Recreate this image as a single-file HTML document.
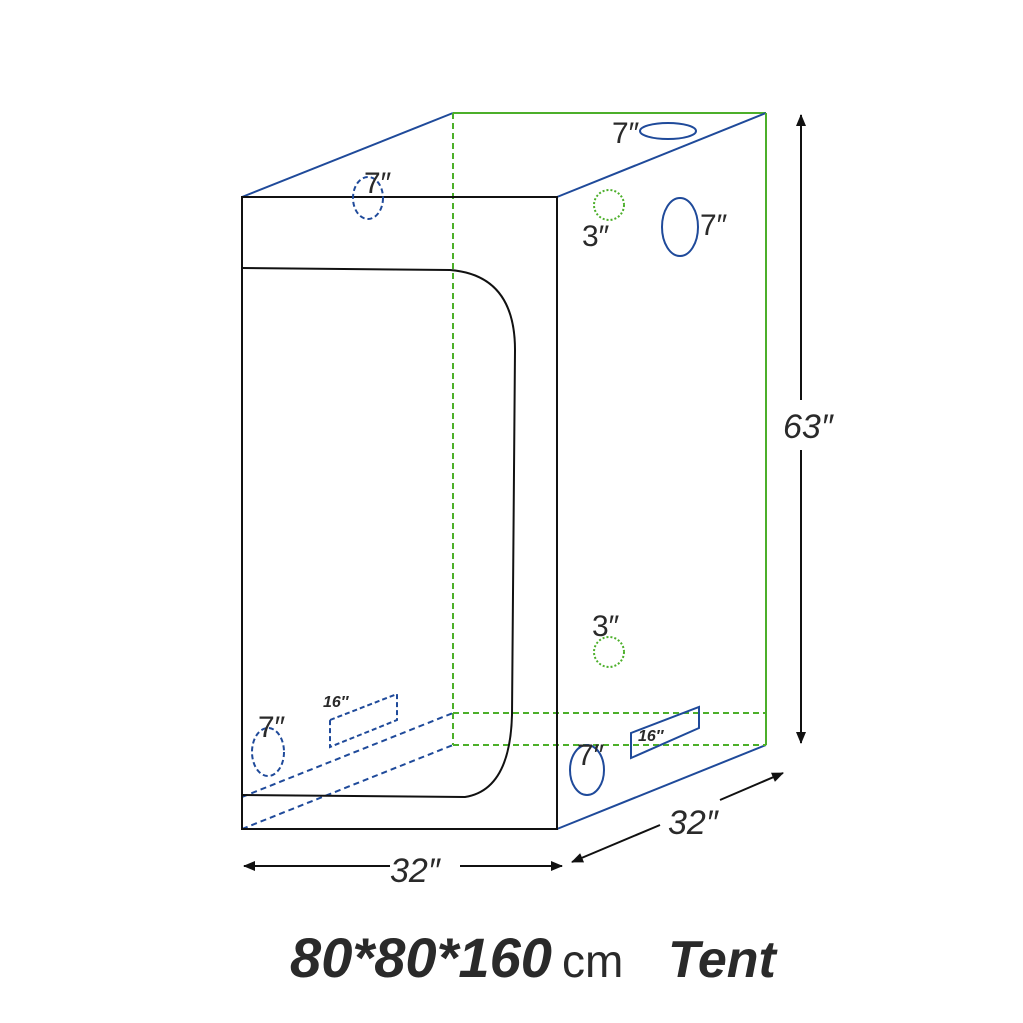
<!DOCTYPE html>
<html><head><meta charset="utf-8"><style>
html,body{margin:0;padding:0;background:#fff;}
svg{display:block;}
text{font-family:"Liberation Sans",sans-serif;fill:#2a2a2a;}
</style></head><body>
<svg width="1023" height="1023" viewBox="0 0 1023 1023" xmlns="http://www.w3.org/2000/svg">
<defs>
<marker id="ah" markerWidth="12" markerHeight="10" refX="11" refY="5" orient="auto" markerUnits="userSpaceOnUse">
<path d="M0,0 L12,5 L0,10 Z" fill="#111"/></marker>
</defs>
<line x1="242" y1="197" x2="453" y2="113" stroke="#1f4a9a" stroke-width="2"/>
<line x1="453" y1="113" x2="766" y2="113" stroke="#4caf2a" stroke-width="2"/>
<line x1="557" y1="197" x2="766" y2="113" stroke="#1f4a9a" stroke-width="2"/>
<line x1="766" y1="113" x2="766" y2="745" stroke="#4caf2a" stroke-width="2"/>
<line x1="557" y1="829" x2="766" y2="745" stroke="#1f4a9a" stroke-width="2"/>
<line x1="453" y1="113" x2="453" y2="745" stroke="#4caf2a" stroke-width="2" stroke-dasharray="6,4"/>
<line x1="453" y1="713" x2="766" y2="713" stroke="#4caf2a" stroke-width="2" stroke-dasharray="6,4"/>
<line x1="453" y1="745" x2="766" y2="745" stroke="#4caf2a" stroke-width="2" stroke-dasharray="6,4"/>
<line x1="242" y1="829" x2="453" y2="745" stroke="#1f4a9a" stroke-width="2" stroke-dasharray="6,4"/>
<line x1="242" y1="797" x2="453" y2="713" stroke="#1f4a9a" stroke-width="2" stroke-dasharray="6,4"/>
<rect x="242" y="197" width="315" height="632" fill="none" stroke="#111" stroke-width="2"/>
<path d="M242,268 L450,270 Q515,275 515,350 L512,715 Q510,790 465,797 L242,795" fill="none" stroke="#111" stroke-width="2"/>
<ellipse cx="668" cy="131" rx="28" ry="8" fill="none" stroke="#1f4a9a" stroke-width="2"/>
<ellipse cx="368" cy="198" rx="15" ry="21" fill="none" stroke="#1f4a9a" stroke-width="2" stroke-dasharray="5,3"/>
<circle cx="609" cy="205" r="15" fill="none" stroke="#4caf2a" stroke-width="2" stroke-dasharray="2,2"/>
<ellipse cx="680" cy="227" rx="18" ry="29" fill="none" stroke="#1f4a9a" stroke-width="2"/>
<circle cx="609" cy="652" r="15" fill="none" stroke="#4caf2a" stroke-width="2" stroke-dasharray="2,2"/>
<ellipse cx="587" cy="770" rx="17" ry="25" fill="none" stroke="#1f4a9a" stroke-width="2"/>
<ellipse cx="268" cy="752" rx="16" ry="24" fill="none" stroke="#1f4a9a" stroke-width="2" stroke-dasharray="5,3"/>
<polygon points="631,733 699,707 699,728 631,758" fill="none" stroke="#1f4a9a" stroke-width="2"/>
<polygon points="330,720 397,694 397,720 330,747" fill="none" stroke="#1f4a9a" stroke-width="2" stroke-dasharray="5,3"/>
<g font-size="30">
<text x="612" y="143">7″</text>
<text x="364" y="193">7″</text>
<text x="582" y="246">3″</text>
<text x="700" y="235">7″</text>
<text x="592" y="636">3″</text>
<text x="577" y="765">7″</text>
<text x="258" y="737">7″</text>
</g>
<text x="323" y="707" font-size="16" font-style="italic" font-weight="bold">16″</text>
<text x="638" y="741" font-size="16" font-style="italic" font-weight="bold">16″</text>
<line x1="801" y1="400" x2="801" y2="115" stroke="#111" stroke-width="2" marker-end="url(#ah)"/>
<line x1="801" y1="450" x2="801" y2="743" stroke="#111" stroke-width="2" marker-end="url(#ah)"/>
<text x="783" y="438" font-size="34" font-style="italic">63″</text>
<line x1="390" y1="866" x2="244" y2="866" stroke="#111" stroke-width="2" marker-end="url(#ah)"/>
<line x1="460" y1="866" x2="562" y2="866" stroke="#111" stroke-width="2" marker-end="url(#ah)"/>
<text x="390" y="882" font-size="34" font-style="italic">32″</text>
<line x1="660" y1="825" x2="572" y2="862" stroke="#111" stroke-width="2" marker-end="url(#ah)"/>
<line x1="720" y1="800" x2="783" y2="773" stroke="#111" stroke-width="2" marker-end="url(#ah)"/>
<text x="668" y="834" font-size="34" font-style="italic">32″</text>
<text x="290" y="977" font-size="56" font-style="italic" font-weight="bold" textLength="262" lengthAdjust="spacingAndGlyphs">80*80*160</text>
<text x="562" y="977" font-size="46">cm</text>
<text x="668" y="977" font-size="52" font-style="italic" font-weight="bold">Tent</text>
</svg>
</body></html>
